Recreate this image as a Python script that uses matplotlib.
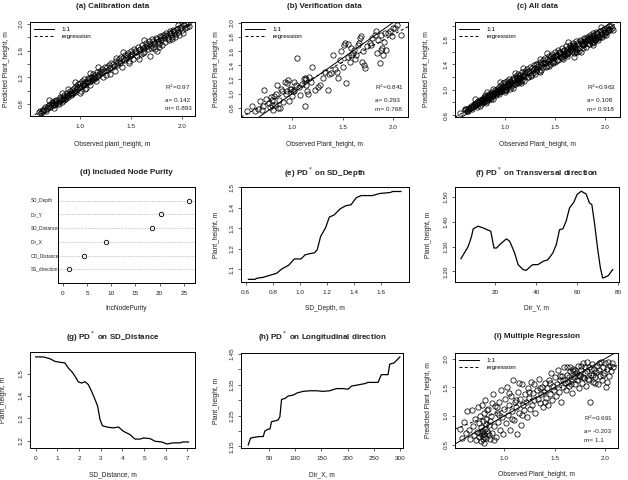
import matplotlib.pyplot as plt
import numpy as np

plt.rcParams['font.family'] = ['Liberation Sans', 'DejaVu Sans']

# ---- calibration data (observed, predicted) ----
cal_obs = [0.60, 0.61, 0.62, 0.63, 0.65, 0.66, 0.68, 0.70, 0.71, 0.72,
           0.73, 0.74, 0.75, 0.76, 0.77, 0.78, 0.79, 0.80, 0.80, 0.81,
           0.82, 0.83, 0.84, 0.85, 0.86, 0.87, 0.88, 0.89, 0.90, 0.91,
           0.92, 0.93, 0.94, 0.95, 0.96, 0.97, 0.98, 0.99, 1.00, 1.01,
           1.02, 1.03, 1.04, 1.05, 1.06, 1.07, 1.08, 1.09, 1.10, 1.11,
           1.12, 1.13, 1.14, 1.15, 1.16, 1.17, 1.18, 1.20, 1.21, 1.22,
           1.24, 1.25, 1.26, 1.28, 1.29, 1.30, 1.31, 1.33, 1.34, 1.35,
           1.36, 1.38, 1.39, 1.40, 1.41, 1.43, 1.44, 1.45, 1.47, 1.48,
           1.49, 1.50, 1.51, 1.52, 1.53, 1.55, 1.56, 1.57, 1.58, 1.60,
           1.61, 1.62, 1.63, 1.65, 1.66, 1.67, 1.68, 1.69, 1.70, 1.71,
           1.72, 1.73, 1.75, 1.76, 1.77, 1.78, 1.79, 1.80, 1.81, 1.82,
           1.83, 1.84, 1.85, 1.86, 1.87, 1.88, 1.89, 1.90, 1.91, 1.92,
           1.93, 1.95, 1.96, 1.97, 1.99, 2.00, 2.01, 2.02, 2.03, 2.04,
           2.05, 2.06, 2.07, 0.64, 0.67, 0.69, 0.74, 0.77, 0.79, 0.83,
           0.86, 0.88, 0.91, 0.94, 0.97, 1.00, 1.03, 1.06, 1.09, 1.12,
           1.15, 1.19, 1.22, 1.27, 1.32, 1.37, 1.42, 1.46, 1.50, 1.54,
           1.59, 1.64, 1.68, 1.72, 1.76, 1.80, 1.84, 1.88, 1.92, 1.98,
           1.62, 1.70, 1.78, 1.86, 1.94, 0.76, 0.84, 0.92, 1.04, 1.14,
           0.70, 0.82, 0.95, 1.05, 1.18, 1.30, 1.42, 1.58, 1.74, 1.90,
           0.75, 0.88, 1.00, 1.10, 1.23, 1.35, 1.48, 1.63, 1.78, 1.96]
cal_pred = [0.68, 0.69, 0.67, 0.70, 0.72, 0.75, 0.74, 0.78, 0.76, 0.80,
            0.83, 0.79, 0.84, 0.81, 0.86, 0.82, 0.88, 0.85, 0.91, 0.87,
            0.83, 0.90, 0.94, 0.88, 0.92, 0.97, 0.90, 0.95, 0.99, 0.93,
            1.01, 0.96, 1.04, 0.98, 1.07, 1.02, 1.10, 1.05, 1.12, 1.00,
            1.14, 1.08, 1.17, 1.11, 1.04, 1.15, 1.19, 1.13, 1.09, 1.21,
            1.16, 1.25, 1.18, 1.23, 1.14, 1.28, 1.22, 1.30, 1.26, 1.33,
            1.29, 1.36, 1.23, 1.31, 1.39, 1.34, 1.41, 1.37, 1.30, 1.44,
            1.39, 1.47, 1.42, 1.50, 1.36, 1.46, 1.54, 1.49, 1.57, 1.44,
            1.52, 1.60, 1.55, 1.47, 1.63, 1.58, 1.52, 1.66, 1.61, 1.55,
            1.69, 1.64, 1.58, 1.71, 1.67, 1.62, 1.74, 1.52, 1.69, 1.77,
            1.65, 1.72, 1.79, 1.60, 1.75, 1.70, 1.82, 1.76, 1.68, 1.84,
            1.79, 1.73, 1.87, 1.81, 1.76, 1.89, 1.84, 1.78, 1.91, 1.86,
            1.81, 1.93, 1.88, 1.84, 1.96, 1.91, 1.87, 1.98, 1.94, 2.00,
            1.95, 2.01, 1.97, 0.71, 0.70, 0.77, 0.81, 0.84, 0.80, 0.87,
            0.89, 0.94, 0.97, 0.99, 1.04, 1.06, 1.11, 1.13, 1.17, 1.20,
            1.19, 1.25, 1.28, 1.35, 1.40, 1.43, 1.49, 1.53, 1.54, 1.60,
            1.63, 1.66, 1.70, 1.74, 1.77, 1.80, 1.83, 1.86, 1.89, 1.94,
            1.56, 1.64, 1.72, 1.78, 1.85, 0.78, 0.86, 0.95, 1.09, 1.21,
            0.86, 0.96, 1.13, 1.02, 1.35, 1.25, 1.58, 1.48, 1.62, 1.80,
            0.74, 1.02, 0.97, 1.26, 1.20, 1.49, 1.42, 1.76, 1.66, 1.99]

# ---- verification data ----
ver_obs = [0.55, 0.60, 0.63, 0.68, 0.70, 0.72, 0.77, 0.78, 0.80, 0.81,
           0.82, 0.83, 0.85, 0.87, 0.88, 0.90, 0.91, 0.93, 0.95, 0.95,
           0.97, 0.98, 1.00, 1.02, 1.02, 1.05, 1.07, 1.08, 1.12, 1.13,
           1.13, 1.14, 1.15, 1.17, 1.20, 1.23, 1.28, 1.31, 1.32, 1.35,
           1.38, 1.40, 1.42, 1.45, 1.47, 1.48, 1.50, 1.51, 1.52, 1.53,
           1.55, 1.57, 1.58, 1.60, 1.62, 1.63, 1.65, 1.67, 1.68, 1.69,
           1.71, 1.72, 1.77, 1.78, 1.82, 1.83, 1.84, 1.87, 1.88, 1.89,
           1.90, 1.92, 1.93, 1.97, 1.99, 2.02, 2.04, 2.08, 0.74, 0.79,
           0.80, 0.84, 0.86, 0.89, 0.94, 0.96, 0.99, 1.01, 1.04, 1.10,
           1.14, 1.16, 1.19, 1.26, 1.36, 1.44, 1.55, 1.58, 1.61, 1.66,
           1.70, 1.74, 1.79, 1.85, 1.88, 1.91, 1.95, 2.00, 0.66, 0.71]
ver_pred = [0.75, 0.83, 0.75, 0.90, 0.77, 1.05, 0.87, 0.81, 0.91, 0.77,
            0.97, 0.84, 1.12, 0.91, 0.80, 1.03, 0.88, 1.17, 1.15, 1.03,
            0.89, 1.06, 0.96, 1.17, 1.03, 1.50, 1.10, 0.98, 1.20, 1.22,
            0.82, 1.12, 1.03, 1.24, 1.38, 1.05, 1.12, 1.22, 1.31, 1.05,
            1.29, 1.55, 1.34, 1.22, 1.48, 1.60, 1.38, 1.68, 1.71, 1.15,
            1.52, 1.45, 1.64, 1.57, 1.49, 1.55, 1.69, 1.78, 1.81, 1.45,
            1.41, 1.36, 1.71, 1.69, 1.83, 1.88, 1.57, 1.43, 1.83, 1.64,
            1.55, 1.85, 1.61, 1.88, 1.81, 1.92, 1.97, 1.82, 0.93, 0.95,
            0.84, 0.99, 0.80, 1.07, 1.00, 1.19, 1.07, 1.04, 1.12, 1.14,
            1.20, 1.00, 1.17, 1.09, 1.28, 1.30, 1.70, 1.54, 1.62, 1.72,
            1.60, 1.67, 1.79, 1.76, 1.61, 1.73, 1.86, 1.93, 0.78, 0.82]
# all-data model prediction for the verification rows
ver_pred_all = [0.63, 0.70, 0.66, 0.74, 0.78, 0.73, 0.84, 0.80, 0.88, 0.79,
                0.90, 0.85, 0.93, 0.91, 0.86, 0.97, 0.92, 1.00, 1.02, 0.96,
                0.98, 1.04, 1.02, 1.09, 1.05, 1.14, 1.08, 1.03, 1.13, 1.17,
                1.10, 1.12, 1.18, 1.15, 1.22, 1.20, 1.27, 1.30, 1.33, 1.28,
                1.36, 1.42, 1.38, 1.40, 1.46, 1.51, 1.44, 1.53, 1.55, 1.47,
                1.52, 1.50, 1.57, 1.55, 1.54, 1.60, 1.63, 1.66, 1.69, 1.58,
                1.62, 1.60, 1.72, 1.70, 1.78, 1.80, 1.72, 1.74, 1.82, 1.76,
                1.78, 1.84, 1.79, 1.88, 1.86, 1.92, 1.96, 1.94, 0.80, 0.86,
                0.83, 0.92, 0.85, 0.95, 0.94, 1.01, 0.99, 1.00, 1.06, 1.09,
                1.16, 1.10, 1.14, 1.22, 1.31, 1.37, 1.60, 1.53, 1.58, 1.64,
                1.60, 1.66, 1.73, 1.77, 1.70, 1.80, 1.84, 1.90, 0.72, 0.76]

# ---- multiple regression ----
mr_obs = [0.56, 0.58, 0.60, 0.62, 0.63, 0.65, 0.66, 0.68, 0.69, 0.70,
          0.71, 0.72, 0.73, 0.74, 0.75, 0.75, 0.76, 0.76, 0.77, 0.77,
          0.78, 0.78, 0.79, 0.79, 0.80, 0.80, 0.80, 0.81, 0.81, 0.82,
          0.82, 0.83, 0.84, 0.85, 0.86, 0.87, 0.88, 0.89, 0.90, 0.91,
          0.92, 0.93, 0.94, 0.95, 0.96, 0.97, 0.98, 0.99, 1.00, 1.01,
          1.02, 1.03, 1.04, 1.05, 1.06, 1.07, 1.08, 1.09, 1.10, 1.11,
          1.12, 1.13, 1.14, 1.15, 1.16, 1.17, 1.18, 1.19, 1.20, 1.21,
          1.22, 1.23, 1.24, 1.25, 1.26, 1.27, 1.28, 1.29, 1.30, 1.31,
          1.32, 1.33, 1.34, 1.35, 1.36, 1.37, 1.38, 1.39, 1.40, 1.41,
          1.42, 1.43, 1.44, 1.45, 1.46, 1.47, 1.48, 1.49, 1.50, 1.51,
          1.52, 1.53, 1.54, 1.55, 1.56, 1.57, 1.58, 1.59, 1.60, 1.61,
          1.62, 1.63, 1.64, 1.65, 1.66, 1.67, 1.68, 1.69, 1.70, 1.71,
          1.72, 1.73, 1.74, 1.75, 1.76, 1.77, 1.78, 1.79, 1.80, 1.81,
          1.82, 1.83, 1.84, 1.85, 1.86, 1.87, 1.88, 1.89, 1.90, 1.91,
          1.92, 1.93, 1.94, 1.95, 1.96, 1.97, 1.98, 1.99, 2.00, 2.01,
          2.02, 2.03, 2.04, 2.05, 2.06, 2.07, 2.08, 0.79, 0.84, 1.65,
          0.78, 0.80, 0.82, 0.83, 0.85, 0.86, 0.88, 0.90, 0.93, 0.95,
          1.05, 1.08, 1.12, 1.15, 1.18, 1.25, 1.30, 1.35, 1.40, 1.45,
          1.55, 1.58, 1.62, 1.66, 1.70, 1.74, 1.78, 1.82, 1.86, 1.90,
          1.94, 1.98, 2.02, 1.64, 1.72, 1.76, 1.84, 1.88, 1.68, 1.80]
mr_pred = [0.78, 0.62, 0.90, 0.70, 1.08, 0.75, 0.60, 1.10, 0.82, 0.66,
           0.95, 0.58, 0.72, 1.15, 0.64, 0.88, 0.70, 1.00, 0.57, 0.80,
           0.66, 1.20, 0.74, 0.92, 0.52, 0.68, 1.05, 0.78, 1.28, 0.62,
           0.95, 0.73, 1.12, 0.85, 0.60, 1.00, 0.70, 1.38, 0.82, 1.18,
           0.64, 1.05, 0.90, 1.25, 0.76, 1.45, 0.98, 0.68, 1.12, 1.30,
           0.88, 1.50, 1.02, 1.20, 0.75, 1.35, 1.08, 1.62, 0.93, 1.25,
           1.15, 0.68, 1.42, 1.05, 1.30, 0.85, 1.55, 1.20, 1.10, 1.38,
           1.25, 0.98, 1.48, 1.32, 1.12, 1.60, 1.20, 1.40, 1.28, 1.05,
           1.45, 1.30, 1.65, 1.22, 1.38, 1.50, 1.15, 1.42, 1.58, 1.32,
           1.48, 1.20, 1.62, 1.38, 1.75, 1.28, 1.52, 1.45, 1.68, 1.35,
           1.55, 1.80, 1.42, 1.62, 1.25, 1.70, 1.50, 1.85, 1.58, 1.45,
           1.72, 1.60, 1.52, 1.78, 1.65, 1.40, 1.82, 1.68, 1.55, 1.75,
           1.62, 1.88, 1.48, 1.70, 1.80, 1.58, 1.92, 1.66, 1.75, 1.52,
           1.78, 1.65, 1.85, 1.25, 1.72, 1.90, 1.60, 1.82, 1.68, 1.76,
           1.88, 1.55, 1.80, 1.70, 1.95, 1.62, 1.85, 1.75, 1.92, 1.50,
           1.82, 1.95, 1.70, 1.88, 1.78, 1.92, 1.86, 0.60, 0.70, 1.85,
           0.72, 0.63, 0.86, 1.10, 0.67, 0.92, 1.22, 0.58, 1.15, 1.02,
           1.40, 0.95, 1.28, 1.58, 1.02, 1.42, 1.55, 1.48, 1.25, 1.58,
           1.70, 1.62, 1.85, 1.55, 1.80, 1.72, 1.68, 1.95, 1.82, 1.58,
           1.92, 1.72, 1.60, 1.68, 1.70, 1.88, 1.62, 1.72, 1.78, 1.85]

# regression lines (intercept, slope)
reg_a = (0.142, 0.893)
reg_b = (0.293, 0.768)
reg_c = (0.108, 0.918)
reg_i = (0.42, 0.69)

# ---- variable importance ----
imp_vars = ['SS_direction', 'OD_Distance', 'Dir_X', 'SD_Distance', 'Dir_Y', 'SD_Depth']
imp_vals = [1.2, 4.3, 8.9, 18.4, 20.2, 26.1]

# ---- partial dependence curves ----
depth_x = [0.62, 0.67, 0.68, 0.73, 0.78, 0.83, 0.865, 0.92, 0.96, 1.01, 1.04, 1.07,
           1.11, 1.13, 1.155, 1.19, 1.22, 1.255, 1.30, 1.34, 1.38, 1.42, 1.455,
           1.54, 1.59, 1.67, 1.69, 1.75]
depth_y = [1.05, 1.05, 1.055, 1.06, 1.07, 1.08, 1.10, 1.12, 1.15, 1.15, 1.17, 1.175,
           1.18, 1.195, 1.26, 1.30, 1.355, 1.365, 1.395, 1.41, 1.415, 1.45, 1.46,
           1.46, 1.47, 1.475, 1.48, 1.48]

diry_x = [3.1, 5.0, 6.7, 8.3, 9.1, 11.5, 14.0, 16.4, 17.7, 19.3, 20.5, 22.9, 25.4,
          27.0, 29.4, 31.1, 33.5, 35.1, 37.6, 38.4, 40.8, 43.3, 45.7, 48.1, 49.8,
          51.4, 53.0, 54.6, 56.3, 58.4, 60.0, 62.0, 64.4, 66.0, 67.2, 68.5, 70.1,
          71.4, 72.5, 73.8, 75.3, 77.4]
diry_y = [1.251, 1.277, 1.301, 1.341, 1.371, 1.382, 1.375, 1.366, 1.362, 1.294,
          1.294, 1.314, 1.331, 1.321, 1.274, 1.227, 1.207, 1.204, 1.223, 1.227,
          1.227, 1.240, 1.247, 1.274, 1.308, 1.368, 1.371, 1.402, 1.456, 1.479,
          1.510, 1.523, 1.512, 1.476, 1.469, 1.395, 1.287, 1.213, 1.173, 1.177,
          1.183, 1.207]

dist_x = [0.0, 0.35, 0.66, 0.89, 1.12, 1.35, 1.51, 1.66, 1.82, 1.97, 2.12, 2.28,
          2.43, 2.58, 2.74, 2.86, 2.97, 3.08, 3.28, 3.58, 3.82, 4.05, 4.35, 4.58,
          4.82, 4.97, 5.28, 5.51, 5.82, 6.05, 6.35, 6.66, 6.78, 7.05]
dist_y = [1.575, 1.575, 1.567, 1.555, 1.551, 1.548, 1.525, 1.510, 1.488, 1.463,
          1.458, 1.464, 1.451, 1.421, 1.384, 1.354, 1.294, 1.267, 1.261, 1.257,
          1.261, 1.242, 1.227, 1.207, 1.207, 1.212, 1.209, 1.197, 1.194, 1.185,
          1.190, 1.190, 1.194, 1.194]

dirx_x = [9.9, 14.3, 22.6, 32.2, 38.5, 41.7, 48.1, 51.3, 54.5, 64.0, 67.2, 70.4,
          73.6, 79.9, 86.3, 95.9, 103.5, 115.0, 127.7, 140.4, 153.2, 165.9, 178.7,
          191.4, 201.0, 207.3, 216.9, 232.8, 239.2, 258.3, 264.6, 277.4, 280.6,
          288.9, 300.0]
dirx_y = [1.155, 1.177, 1.180, 1.182, 1.182, 1.200, 1.206, 1.206, 1.230, 1.234,
          1.236, 1.246, 1.302, 1.305, 1.313, 1.316, 1.323, 1.328, 1.330, 1.330,
          1.328, 1.330, 1.337, 1.337, 1.335, 1.345, 1.348, 1.353, 1.357, 1.357,
          1.382, 1.382, 1.416, 1.420, 1.439]

W, H = 628, 480
TXT = '#222222'
fig = plt.figure(figsize=(6.28, 4.8), dpi=100)


def box(l, t, r, b):
    return fig.add_axes([l / W, 1 - b / H, (r - l) / W, (b - t) / H])


def style(ax, title, xlab, ylab, l, t, r, b, ty, xly, yly):
    for s in ax.spines.values():
        s.set_linewidth(0.7)
    ax.tick_params(direction='out', length=2.5, width=0.5, labelsize=4.6,
                   colors=TXT, labelcolor=TXT)
    ax.tick_params(axis='x', pad=3)
    ax.tick_params(axis='y', pad=2.2)
    plt.setp(ax.get_yticklabels(), rotation=90, va='center', ha='right')
    cx = (l + r) / 2
    fig.text(cx / W, 1 - ty / H, title, ha='center', va='center',
             fontsize=5.8, fontweight='bold', color=TXT)
    fig.text(cx / W, 1 - xly / H, xlab, ha='center', va='center',
             fontsize=4.8, color=TXT)
    if ylab:
        fig.text(yly / W, 1 - (t + b) / 2 / H, ylab, ha='center', va='center',
                 rotation=90, fontsize=4.8, color=TXT)


def scatter_panel(ax, x, y, reg, xlim, ylim, stats, sx):
    ax.plot(x, y, 'o', mfc='none', mec='black', mew=0.55, ms=3.8, ls='none')
    xx = np.array(xlim)
    ax.plot(xx, xx, 'k-', lw=0.7, label='1:1')
    ax.plot(xx, reg[0] + reg[1] * xx, 'k--', lw=0.7, label='regression',
            dashes=(3, 2.5))
    ax.set_xlim(xlim)
    ax.set_ylim(ylim)
    ax.legend(loc='upper left', frameon=False, fontsize=4.6, handlelength=3,
              borderaxespad=0.3, labelspacing=0.25, handletextpad=1.2)
    for txt, yy in zip(stats, [0.31, 0.17, 0.08]):
        ax.text(sx, yy, txt, transform=ax.transAxes, fontsize=4.6, color=TXT,
                ha='left', va='center')


# (a)
ax = box(30, 22, 195, 116)
scatter_panel(ax, cal_obs, cal_pred, reg_a, (0.51, 2.13), (0.62, 2.03),
              ['R$^2$=0.97', 'a= 0.142', 'm= 0.893'], 0.82)
ax.set_xticks([1.0, 1.5, 2.0])
ax.set_yticks([0.8, 1.0, 1.2, 1.4, 1.6, 1.8, 2.0],
              labels=['0.8', '', '1.2', '', '1.6', '', '2.0'])
style(ax, '(a) Calibration data', 'Observed plant_height, m',
      'Predicted Plant_height, m', 30, 22, 195, 116, 6, 145, 7)

# (b)
ax = box(241, 22, 408, 117)
scatter_panel(ax, ver_obs, ver_pred, reg_b, (0.49, 2.15), (0.67, 2.01),
              ['R$^2$=0.841', 'a= 0.293', 'm= 0.768'], 0.80)
ax.set_xticks([1.0, 1.5, 2.0])
ax.set_yticks([0.8, 1.0, 1.2, 1.4, 1.6, 1.8, 2.0])
style(ax, '(b) Verification data', 'Observed Plant_height, m',
      'Predicted Plant_height, m', 241, 22, 408, 117, 6, 145, 217)

# (c)
all_obs = cal_obs + ver_obs
all_pred = cal_pred + ver_pred_all
ax = box(455, 22, 620, 117)
scatter_panel(ax, all_obs, all_pred, reg_c, (0.5, 2.15), (0.57, 2.07),
              ['R$^2$=0.963', 'a= 0.108', 'm= 0.918'], 0.80)
ax.set_xticks([1.0, 1.5, 2.0])
ax.set_yticks([0.6, 0.8, 1.0, 1.2, 1.4, 1.6, 1.8, 2.0],
              labels=['0.6', '', '1.0', '', '1.4', '', '1.8', ''])
style(ax, '(c) All data', 'Observed Plant_height, m',
      'Predicted Plant_height, m', 455, 22, 620, 117, 6, 145, 427)

# (d)
ax = box(58, 187, 195, 283)
pos = np.arange(1, len(imp_vars) + 1)
for p in pos:
    ax.axhline(p, color='#999999', ls=(0, (1, 1.5)), lw=0.5)
ax.plot(imp_vals, pos, 'o', mfc='none', mec='black', mew=0.6, ms=3.2)
ax.set_xlim(-1.0, 27.3)
ax.set_ylim(0, 7)
ax.set_yticks([])
for p, name in zip(pos, imp_vars):
    ax.text(-0.2, p, name, transform=ax.get_yaxis_transform(), ha='left',
            va='center', fontsize=3.4, color=TXT)
ax.set_xticks([0, 5, 10, 15, 20, 25])
style(ax, '(d) Included Node Purity', 'IncNodePurity', None,
      58, 187, 195, 283, 173, 309, 0)

# (e)
ax = box(241, 187, 409, 282)
ax.plot(depth_x, depth_y, 'k-', lw=0.9)
ax.set_xlim(0.565, 1.81)
ax.set_ylim(1.037, 1.502)
ax.set_xticks([0.6, 0.8, 1.0, 1.2, 1.4, 1.6])
ax.set_yticks([1.1, 1.2, 1.3, 1.4, 1.5])
style(ax, '(e) PD$^*$ on SD_Depth', 'SD_Depth, m', 'Plant_height, m',
      241, 187, 409, 282, 173, 308, 217)

# (f)
ax = box(455, 187, 619, 282)
ax.plot(diry_x, diry_y, 'k-', lw=0.9)
ax.set_xlim(0.2, 80.5)
ax.set_ylim(1.157, 1.54)
ax.set_xticks([20, 40, 60, 80])
ax.set_yticks([1.2, 1.3, 1.4, 1.5], labels=['1.20', '1.30', '1.40', '1.50'])
style(ax, '(f) PD$^*$ on Transversal direction', 'Dir_Y, m', 'Plant_height, m',
      455, 187, 619, 282, 173, 308, 428)

# (g)
ax = box(30, 352, 195, 448)
ax.plot(dist_x, dist_y, 'k-', lw=0.9)
ax.set_xlim(-0.26, 7.35)
ax.set_ylim(1.167, 1.597)
ax.set_xticks(range(8))
ax.set_yticks([1.2, 1.3, 1.4, 1.5])
style(ax, '(g) PD$^*$ on SD_Distance', 'SD_Distance, m', 'Plant_height, m',
      30, 352, 195, 448, 337, 475, 4)

# (h)
ax = box(241, 353, 403, 448)
ax.plot(dirx_x, dirx_y, 'k-', lw=0.9)
ax.set_xlim(-4, 306)
ax.set_ylim(1.145, 1.452)
ax.set_xticks([50, 100, 150, 200, 250, 300])
ax.set_yticks([1.15, 1.20, 1.25, 1.30, 1.35, 1.40, 1.45],
              labels=['1.15', '', '1.25', '', '1.35', '', '1.45'])
style(ax, '(h) PD$^*$ on Longitudinal direction', 'Dir_X, m', 'Plant_height, m',
      241, 353, 403, 448, 337, 475, 216)

# (i)
ax = box(455, 353, 618, 448)
scatter_panel(ax, mr_obs, mr_pred, reg_i, (0.51, 2.13), (0.44, 2.1),
              ['R$^2$=0.691', 'a= -0.203', 'm= 1.1'], 0.79)
ax.set_xticks([1.0, 1.5, 2.0])
ax.set_yticks([0.5, 1.0, 1.5, 2.0])
style(ax, '(i) Multiple Regression', 'Observed Plant_height, m',
      'Predicted Plant_height, m', 455, 353, 618, 448, 337, 475, 428)

fig.savefig('out.png', dpi=100)
